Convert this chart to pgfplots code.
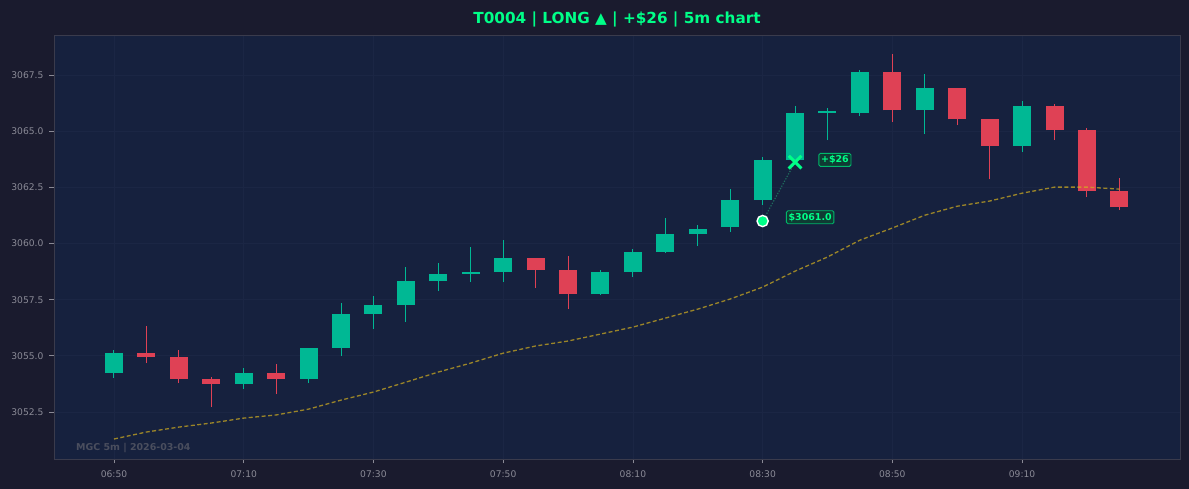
\documentclass[border=0pt]{standalone}
\usepackage{pgfplots}
\pgfplotsset{compat=1.18}
\usepackage{pgfplotstable}
\usepackage{fontspec}
\setmainfont{DejaVu Sans}
\definecolor{outerbg}{HTML}{1A1B2E}
\definecolor{plotbg}{HTML}{16213E}
\definecolor{gridc}{HTML}{1B2644}
\definecolor{spine}{HTML}{3A3B4C}
\definecolor{tickc}{HTML}{8A8A96}
\definecolor{upc}{HTML}{00B894}
\definecolor{downc}{HTML}{DF4155}
\definecolor{mac}{HTML}{D4B020}
\definecolor{brightg}{HTML}{00FF88}
\definecolor{boxfill}{HTML}{0F3B33}
\definecolor{boxedge}{HTML}{00B86A}
\definecolor{dotc}{HTML}{1F6E5E}
\definecolor{wmark}{HTML}{4A4E5E}

\pgfplotstableread{
x o c h l
0 3054.23 3055.12 3055.26 3054.03
4 3053.75 3054.23 3054.46 3053.52
6 3053.97 3055.35 3055.35 3053.79
7 3055.35 3056.86 3057.35 3055.00
8 3056.86 3057.26 3057.66 3056.19
9 3057.26 3058.33 3058.95 3056.50
10 3058.33 3058.64 3059.13 3057.88
11 3058.64 3058.72 3059.84 3058.28
12 3058.73 3059.35 3060.15 3058.28
15 3057.75 3058.73 3058.82 3057.70
16 3058.73 3059.62 3059.75 3058.50
17 3059.62 3060.42 3061.13 3059.58
18 3060.42 3060.64 3060.82 3059.88
19 3060.73 3061.93 3062.42 3060.51
20 3061.93 3063.71 3063.84 3061.71
21 3063.71 3065.80 3066.11 3063.71
22 3065.80 3065.89 3066.02 3064.60
23 3065.80 3067.62 3067.71 3065.67
25 3065.93 3066.91 3067.54 3064.87
28 3064.33 3066.11 3066.33 3064.07
}\upTable

\pgfplotstableread{
x o c h l
1 3055.12 3054.95 3056.33 3054.68
2 3054.95 3053.97 3055.26 3053.79
3 3053.97 3053.75 3054.06 3052.72
5 3054.23 3053.97 3054.64 3053.30
13 3059.35 3058.82 3059.35 3058.02
14 3058.82 3057.75 3059.44 3057.08
24 3067.62 3065.93 3068.43 3065.40
26 3066.91 3065.53 3066.91 3065.27
27 3065.53 3064.33 3065.53 3062.86
29 3066.11 3065.04 3066.20 3064.60
30 3065.04 3062.33 3065.13 3062.06
31 3062.33 3061.62 3062.91 3061.49
}\downTable

\pgfplotstableread{
x ma
0 3051.30
1 3051.61
2 3051.83
3 3052.01
4 3052.23
5 3052.37
6 3052.63
7 3053.03
8 3053.39
9 3053.83
10 3054.28
11 3054.68
12 3055.12
13 3055.44
14 3055.66
15 3055.97
16 3056.28
17 3056.68
18 3057.08
19 3057.53
20 3058.06
21 3058.77
22 3059.40
23 3060.15
24 3060.69
25 3061.26
26 3061.66
27 3061.89
28 3062.24
29 3062.51
30 3062.51
31 3062.42
}\maTable

\pgfplotsset{
  candle/.style 2 args={only marks, mark=*, mark size=0bp,
    mark options={draw opacity=0, fill opacity=0},
    error bars/.cd, y dir=plus, y explicit, error mark=none,
    error bar style={draw=#1, line width=#2, opacity=1}},
}

\begin{document}
\begin{tikzpicture}
\fill[outerbg] (-54bp,-30bp) rectangle (1135bp,459bp);
\begin{axis}[
  at={(0,0)}, anchor=south west,
  scale only axis, width=1126bp, height=424bp,
  xmin=-1.85, xmax=32.87, ymin=3050.41, ymax=3069.28,
  axis background/.style={fill=plotbg},
  axis line style={draw=spine, line width=0.8bp},
  grid=major,
  major grid style={draw=gridc, line width=0.8bp},
  tick align=outside, tick pos=left,
  major tick length=4.5bp,
  tick style={draw=tickc, line width=0.8bp},
  xtick={0,4,...,28},
  xticklabels={06:50,07:10,07:30,07:50,08:10,08:30,08:50,09:10},
  ytick={3052.5,3055,...,3067.5},
  /pgf/number format/assume math mode=true,
  y tick label style={xshift=-2.5bp, /pgf/number format/fixed, /pgf/number format/fixed zerofill, /pgf/number format/precision=1, /pgf/number format/1000 sep={}},
  x tick label style={yshift=-4bp},
  ticklabel style={font=\fontsize{9.2}{11}\selectfont, text=tickc},
  title={T0004 | LONG ▲ | +\$26 | 5m chart},
  title style={at={(0.5,1)}, anchor=center, yshift=10bp, font=\fontsize{15.3}{18}\selectfont\bfseries, text=brightg},
  clip=false,
]
% wicks
\addplot[candle={upc}{1bp}] table[x=x, y=l, y error plus expr=\thisrow{h}-\thisrow{l}] {\upTable};
\addplot[candle={downc}{1bp}] table[x=x, y=l, y error plus expr=\thisrow{h}-\thisrow{l}] {\downTable};
% bodies
\addplot[candle={upc}{18bp}] table[x=x, y=o, y error plus expr=\thisrow{c}-\thisrow{o}] {\upTable};
\addplot[candle={downc}{18bp}] table[x=x, y=c, y error plus expr=\thisrow{o}-\thisrow{c}] {\downTable};
% moving average
\addplot[mac, opacity=0.7, line width=1.3bp, dash pattern=on 4bp off 2.5bp, mark=none] table[x=x, y=ma] {\maTable};
% trade path
\addplot[dotc, line width=1.2bp, dash pattern=on 1.2bp off 1.6bp, mark=none] coordinates {(20,3061.0) (21,3063.62)};
\addplot[only marks, mark=*, mark size=5.6bp, mark options={fill=brightg, draw=white, line width=1.4bp}] coordinates {(20,3061.0)};
\addplot[only marks, mark=x, mark size=9bp, mark options={draw=brightg, line width=3bp}] coordinates {(21,3063.62)};
\node[anchor=west, draw=boxedge, fill=boxfill, rounded corners=1.5bp, inner sep=2.2bp, line width=0.9bp,
  font=\fontsize{9.5}{11}\selectfont\bfseries, text=brightg] at (axis cs:21.72,3063.72) {+\$26};
\node[anchor=west, draw=boxedge, fill=boxfill, rounded corners=1.5bp, inner sep=2.2bp, line width=0.9bp,
  font=\fontsize{9.5}{11}\selectfont\bfseries, text=brightg] at (axis cs:20.72,3061.17) {\$3061.0};
\node[anchor=west, font=\fontsize{9.5}{11}\selectfont\bfseries, text=wmark] at (rel axis cs:0.0165,0.026) {MGC 5m | 2026-03-04};
\end{axis}
\end{tikzpicture}
\end{document}
